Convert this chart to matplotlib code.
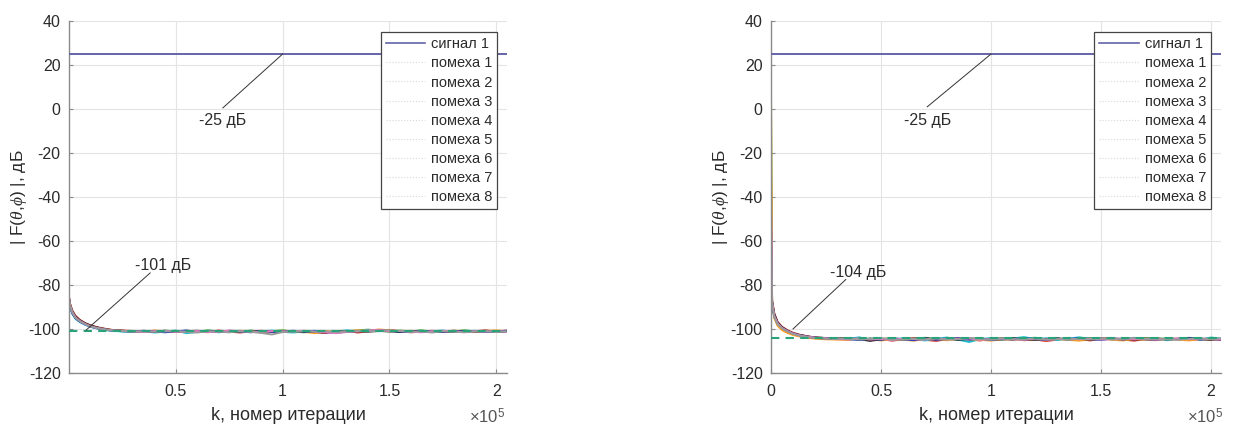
import matplotlib
matplotlib.use("Agg")
import matplotlib.pyplot as plt
from matplotlib.lines import Line2D
from matplotlib.ticker import FuncFormatter, FixedLocator

plt.rcParams['font.family'] = ['Liberation Sans', 'DejaVu Sans']
plt.rcParams['mathtext.fontset'] = 'custom'
plt.rcParams['mathtext.it'] = 'Liberation Serif:italic'
plt.rcParams['mathtext.rm'] = 'Liberation Sans'
plt.rcParams['axes.unicode_minus'] = False

# ---------------- data ----------------
K_LEFT = [1, 500, 1500, 3000, 5000, 7500, 10000, 12500, 15000, 17500, 20000, 25000, 30000,
          35000, 40000, 45000, 50000, 55000, 60000, 65000,
          70000, 75000, 80000, 85000, 90000, 95000, 100000,
          105000, 110000, 115000, 120000, 125000, 130000, 135000,
          140000, 145000, 150000, 155000, 160000, 165000, 170000,
          175000, 180000, 185000, 190000, 195000, 200000, 205000]
K_RIGHT = [0, 500, 1500, 3000, 5000, 7500, 10000, 12500, 15000, 17500, 20000, 25000, 30000,
           35000, 40000, 45000, 50000, 55000, 60000, 65000,
           70000, 75000, 80000, 85000, 90000, 95000, 100000,
           105000, 110000, 115000, 120000, 125000, 130000, 135000,
           140000, 145000, 150000, 155000, 160000, 165000, 170000,
           175000, 180000, 185000, 190000, 195000, 200000, 205000]

SIGNAL_DB = 25
LEVEL_LEFT = -101
LEVEL_RIGHT = -104

NOISE_LABELS = ['помеха 1', 'помеха 2', 'помеха 3', 'помеха 4',
                'помеха 5', 'помеха 6', 'помеха 7', 'помеха 8']
SIGNAL_LABEL = 'сигнал 1'

left_1 = [-85.5, -88.5, -91.5, -94.0, -95.8, -97.3, -98.3, -99.0, -99.6, -100.0, -100.4, -100.7, -100.9,
          -101.3, -100.8, -101.4, -100.9, -101.5, -101.0, -101.3,
          -100.7, -101.2, -101.6, -101.1, -100.8, -101.4, -101.0,
          -101.3, -100.9, -101.5, -101.8, -101.2, -100.9, -101.6,
          -101.1, -100.6, -100.4, -101.0, -101.5, -101.2, -100.8,
          -101.4, -100.9, -101.3, -101.0, -100.6, -101.2, -100.7]
left_2 = [-86.5, -89.5, -92.5, -95.0, -96.5, -97.8, -98.8, -99.5, -100.0, -100.4, -100.7, -101.0, -101.2,
          -100.9, -101.4, -100.7, -101.2, -100.8, -101.3, -100.6,
          -101.1, -100.9, -101.3, -100.7, -101.2, -101.0, -100.6,
          -101.2, -101.5, -100.9, -101.1, -101.6, -101.0, -100.7,
          -100.3, -100.8, -101.2, -100.7, -101.1, -100.6, -101.3,
          -100.9, -101.2, -100.6, -101.1, -100.8, -101.3, -100.9]
left_3 = [-87.0, -90.0, -93.0, -95.3, -96.8, -98.0, -99.0, -99.6, -100.1, -100.5, -100.8, -101.1, -101.3,
          -101.0, -101.6, -101.2, -100.7, -101.9, -101.3, -100.9,
          -101.5, -101.0, -100.8, -101.4, -101.1, -100.7, -101.3,
          -101.6, -101.1, -100.8, -101.4, -101.2, -100.6, -101.1,
          -100.5, -101.0, -100.7, -101.3, -100.9, -101.4, -101.0,
          -100.7, -101.3, -101.1, -100.8, -101.4, -101.0, -101.2]
left_4 = [-86.0, -89.0, -92.0, -94.5, -96.2, -97.6, -98.6, -99.3, -99.8, -100.2, -100.5, -100.9, -101.0,
          -101.2, -100.7, -101.0, -101.4, -100.8, -101.1, -101.5,
          -100.9, -101.3, -100.8, -101.0, -101.5, -101.2, -100.8,
          -101.0, -101.3, -101.9, -100.9, -101.4, -101.1, -100.6,
          -100.9, -100.2, -100.6, -101.2, -100.8, -101.3, -100.9,
          -101.2, -100.7, -101.0, -101.4, -100.9, -100.6, -101.0]
left_5 = [-85.8, -88.8, -91.8, -94.3, -96.0, -97.4, -98.4, -99.1, -99.7, -100.1, -100.5, -100.8, -101.1,
          -101.1, -101.3, -100.9, -101.2, -101.0, -100.8, -101.2,
          -101.0, -101.4, -101.1, -101.3, -100.9, -101.1, -101.4,
          -100.9, -101.2, -101.3, -101.6, -101.0, -101.3, -100.9,
          -101.2, -100.9, -101.0, -101.4, -101.1, -100.9, -101.2,
          -101.0, -101.3, -100.9, -101.2, -101.0, -101.3, -101.1]
left_6 = [-86.8, -89.8, -92.8, -95.1, -96.6, -97.9, -98.9, -99.5, -100.0, -100.4, -100.7, -101.0, -101.1,
          -100.8, -101.1, -101.5, -101.0, -100.7, -101.2, -101.0,
          -101.3, -100.8, -101.1, -101.5, -100.9, -101.3, -101.1,
          -100.8, -101.2, -101.0, -101.4, -101.7, -101.2, -100.9,
          -101.0, -100.5, -100.9, -101.1, -101.4, -100.9, -101.1,
          -101.3, -100.8, -101.2, -100.9, -101.2, -101.0, -100.8]
left_7 = [-86.2, -89.2, -92.2, -94.7, -96.3, -97.7, -98.7, -99.4, -99.9, -100.3, -100.6, -100.9, -101.0,
          -101.4, -101.0, -100.8, -101.3, -101.2, -100.9, -101.4,
          -101.2, -100.7, -101.0, -101.2, -101.4, -100.9, -101.2,
          -101.0, -100.8, -101.2, -101.5, -101.9, -101.4, -101.0,
          -100.7, -100.4, -101.1, -100.9, -101.2, -101.5, -101.0,
          -100.8, -101.1, -101.4, -101.0, -101.2, -100.9, -101.3]
left_8 = [-86.4, -89.4, -92.4, -94.9, -96.4, -97.8, -98.8, -99.4, -99.9, -100.3, -100.6, -100.9, -101.2,
          -101.0, -101.3, -101.1, -100.8, -101.4, -101.6, -101.0,
          -101.2, -101.5, -101.0, -101.3, -101.8, -102.5, -101.4,
          -101.1, -100.9, -101.3, -101.0, -101.4, -101.2, -100.9,
          -101.1, -100.8, -100.6, -101.0, -101.3, -101.1, -101.6,
          -101.0, -101.2, -101.5, -101.1, -100.9, -101.4, -101.0]

right_1 = [-30.0, -87.0, -93.0, -96.8, -99.0, -100.6, -101.7, -102.5, -103.0, -103.5, -103.8, -104.2, -104.5,
           -104.8, -104.2, -105.0, -104.5, -105.3, -104.7, -104.1,
           -104.9, -105.4, -104.6, -104.2, -104.8, -105.2, -104.5,
           -104.9, -104.3, -105.1, -104.7, -105.5, -104.8, -104.2,
           -104.6, -105.2, -104.5, -104.1, -104.8, -105.3, -104.6,
           -104.2, -104.9, -104.4, -105.0, -104.6, -104.3, -105.1]
right_2 = [3.0, -88.5, -94.5, -97.8, -99.8, -101.2, -102.2, -102.9, -103.4, -103.7, -104.0, -104.3, -104.4,
           -104.2, -104.9, -104.3, -104.7, -104.1, -104.8, -104.4,
           -104.0, -104.6, -104.2, -104.9, -104.3, -104.7, -104.5,
           -104.1, -104.8, -104.3, -104.0, -104.6, -104.2, -104.8,
           -104.4, -104.1, -104.7, -104.3, -104.9, -104.4, -104.1,
           -104.6, -104.2, -104.5, -104.1, -104.7, -104.3, -104.6]
right_3 = [-45.0, -89.0, -94.8, -98.0, -100.0, -101.4, -102.4, -103.0, -103.5, -103.8, -104.1, -104.3, -104.6,
           -104.5, -103.8, -104.9, -104.3, -105.0, -104.1, -104.7,
           -105.2, -104.4, -103.9, -104.8, -105.9, -104.6, -104.1,
           -104.9, -104.3, -103.7, -104.6, -104.2, -105.0, -104.4,
           -103.8, -104.5, -104.9, -104.2, -104.7, -104.0, -104.6,
           -104.3, -105.1, -104.5, -104.0, -104.8, -103.9, -104.4]
right_4 = [8.0, -88.2, -95.0, -98.5, -100.5, -101.8, -102.7, -103.3, -103.8, -104.1, -104.4, -104.7, -104.8,
           -104.9, -104.4, -104.7, -105.2, -104.6, -104.9, -105.3,
           -104.5, -104.8, -105.1, -104.4, -104.7, -104.9, -105.3,
           -104.6, -105.0, -104.4, -104.8, -105.2, -104.5, -104.9,
           -105.3, -104.7, -104.4, -104.9, -105.2, -104.6, -104.9,
           -105.1, -104.5, -104.8, -105.2, -104.6, -104.9, -104.4]
right_5 = [-60.0, -87.5, -93.2, -97.0, -99.2, -100.8, -101.9, -102.6, -103.1, -103.5, -103.8, -104.1, -104.3,
           -104.3, -104.6, -105.4, -104.7, -104.4, -104.8, -104.5,
           -104.2, -104.7, -104.4, -104.9, -104.5, -104.3, -104.8,
           -104.6, -104.2, -104.7, -104.9, -104.5, -104.3, -104.7,
           -104.5, -104.8, -104.3, -104.6, -104.4, -104.8, -104.5,
           -104.3, -104.7, -104.5, -104.2, -104.6, -104.9, -104.5]
right_6 = [-50.0, -88.8, -94.2, -97.6, -99.6, -101.0, -102.1, -102.8, -103.3, -103.7, -104.0, -104.3, -104.5,
           -104.6, -105.0, -104.4, -104.9, -104.2, -104.7, -105.1,
           -104.3, -104.9, -104.6, -104.2, -104.8, -104.4, -105.0,
           -104.5, -104.8, -104.2, -104.6, -105.0, -104.4, -104.7,
           -104.1, -104.6, -104.9, -104.4, -104.8, -104.3, -104.7,
           -104.9, -104.4, -104.7, -104.3, -104.8, -104.5, -104.9]
right_7 = [-40.0, -88.0, -94.0, -97.4, -99.5, -101.0, -102.0, -102.8, -103.3, -103.6, -103.9, -104.2, -104.6,
           -104.7, -104.3, -104.8, -104.5, -104.9, -104.4, -104.6,
           -104.8, -104.2, -104.7, -104.5, -104.3, -104.9, -104.6,
           -104.3, -104.7, -104.9, -104.4, -104.8, -104.6, -104.3,
           -104.7, -104.4, -104.8, -104.6, -104.3, -104.7, -104.4,
           -104.8, -104.5, -104.3, -104.7, -104.4, -104.6, -104.8]
right_8 = [-55.0, -88.3, -94.3, -97.7, -99.7, -101.1, -102.2, -102.9, -103.4, -103.8, -104.1, -104.4, -104.5,
           -104.4, -104.8, -104.5, -104.1, -104.7, -104.9, -104.4,
           -104.7, -104.3, -104.8, -104.6, -104.1, -104.5, -104.9,
           -104.4, -104.6, -104.8, -104.3, -104.7, -104.5, -104.9,
           -104.4, -104.7, -104.3, -104.8, -104.5, -104.1, -104.6,
           -104.4, -104.7, -104.9, -104.5, -104.3, -104.6, -104.2]

LEFT_SERIES = [left_1, left_2, left_3, left_4, left_5, left_6, left_7, left_8]
RIGHT_SERIES = [right_1, right_2, right_3, right_4, right_5, right_6, right_7, right_8]

X_TICKS_LEFT = [50000, 100000, 150000, 200000]
X_TICKS_RIGHT = [0, 50000, 100000, 150000, 200000]
Y_TICKS = [-120, -100, -80, -60, -40, -20, 0, 20, 40]

# annotations: (text, text_xy, line_start, line_end)
ANN_LEFT = [('-25 дБ', (72000, -5), (100000, 25), (72000, 0.5)),
            ('-101 дБ', (44000, -71), (38000, -74.5), (8000, -100.5))]
ANN_RIGHT = [('-25 дБ', (71000, -5), (100000, 25), (71000, 1.0)),
             ('-104 дБ', (39500, -74.5), (34000, -77.5), (10000, -100.0))]

# ---------------- style ----------------
NOISE_COLORS = ['#d62728', '#2ca02c', '#17becf', '#ff9f1c',
                '#222222', '#2040c0', '#e377c2', '#9a9a9a']
SIGNAL_COLOR = '#6464a8'
DASH_COLOR = '#2aa37a'
AX_COLOR = '#8a8a8a'
TXT_COLOR = '#2b2b2b'


def fmt(x, pos):
    v = x / 1e5
    if abs(v - round(v)) < 1e-9:
        return '%d' % round(v)
    return ('%.1f' % v)


fig = plt.figure(figsize=(12.44, 4.28), dpi=100)
axL = fig.add_axes([69 / 1244, 1 - 373 / 428, (507 - 69) / 1244, (373 - 21) / 428])
axR = fig.add_axes([771 / 1244, 1 - 373 / 428, (1221 - 771) / 1244, (373 - 21) / 428])


def draw(ax, K, series, level, xlim, xticks, anns, xoff):
    for s, c in zip(series, NOISE_COLORS):
        ax.plot(K, s, color=c, lw=1.4, zorder=2)
    ax.axhline(SIGNAL_DB, color=SIGNAL_COLOR, lw=1.4, zorder=3)
    ax.axhline(level, color=DASH_COLOR, lw=1.5, ls=(0, (4, 3)), zorder=4)

    ax.set_xlim(*xlim)
    ax.set_ylim(-120, 40)
    ax.xaxis.set_major_locator(FixedLocator(xticks))
    ax.xaxis.set_major_formatter(FuncFormatter(fmt))
    ax.yaxis.set_major_locator(FixedLocator(Y_TICKS))
    ax.grid(True, color='#e4e4e4', lw=0.8, zorder=0)
    ax.set_axisbelow(True)
    for sp in ['top', 'right']:
        ax.spines[sp].set_visible(False)
    for sp in ['left', 'bottom']:
        ax.spines[sp].set_color(AX_COLOR)
        ax.spines[sp].set_linewidth(1.0)
    ax.tick_params(direction='in', length=3, width=0.8, color=AX_COLOR,
                   labelsize=11.5, labelcolor=TXT_COLOR)
    ax.tick_params(axis='x', pad=8)
    ax.tick_params(axis='y', pad=6)
    ax.set_xlabel('k, номер итерации', fontsize=13, color=TXT_COLOR, labelpad=6)
    ax.set_ylabel(r'| F($\theta$,$\phi$) |, дБ', fontsize=12.5, color=TXT_COLOR, labelpad=0)
    ax.text(xoff, -0.125, r'$\times$10$^5$', transform=ax.transAxes, ha='center', va='center',
            fontsize=12, color='#555555')

    for txt, txy, p0, p1 in anns:
        ax.plot([p0[0], p1[0]], [p0[1], p1[1]], color='#333333', lw=0.7, zorder=5)
        ax.text(txy[0], txy[1], txt, ha='center', va='center', fontsize=11.5,
                color=TXT_COLOR, zorder=6)

    handles = [Line2D([], [], color=SIGNAL_COLOR, lw=1.2)]
    for c in NOISE_COLORS:
        handles.append(Line2D([], [], color='#d8d8d8', lw=0.8, ls=':'))
    leg = ax.legend(handles, [SIGNAL_LABEL] + NOISE_LABELS, loc='upper right',
                    bbox_to_anchor=(0.978, 0.968), fontsize=10.5, frameon=True,
                    fancybox=False, edgecolor='#444444', framealpha=1,
                    handlelength=2.7, handletextpad=0.4, labelspacing=0.35,
                    borderpad=0.35, borderaxespad=0.0)
    leg.get_frame().set_linewidth(0.9)
    for t in leg.get_texts():
        t.set_color(TXT_COLOR)
    leg.set_zorder(10)


draw(axL, K_LEFT, LEFT_SERIES, LEVEL_LEFT, (1, 205000), X_TICKS_LEFT, ANN_LEFT, 0.955)
draw(axR, K_RIGHT, RIGHT_SERIES, LEVEL_RIGHT, (0, 204500), X_TICKS_RIGHT, ANN_RIGHT, 0.965)

fig.savefig('out.png', dpi=100)
